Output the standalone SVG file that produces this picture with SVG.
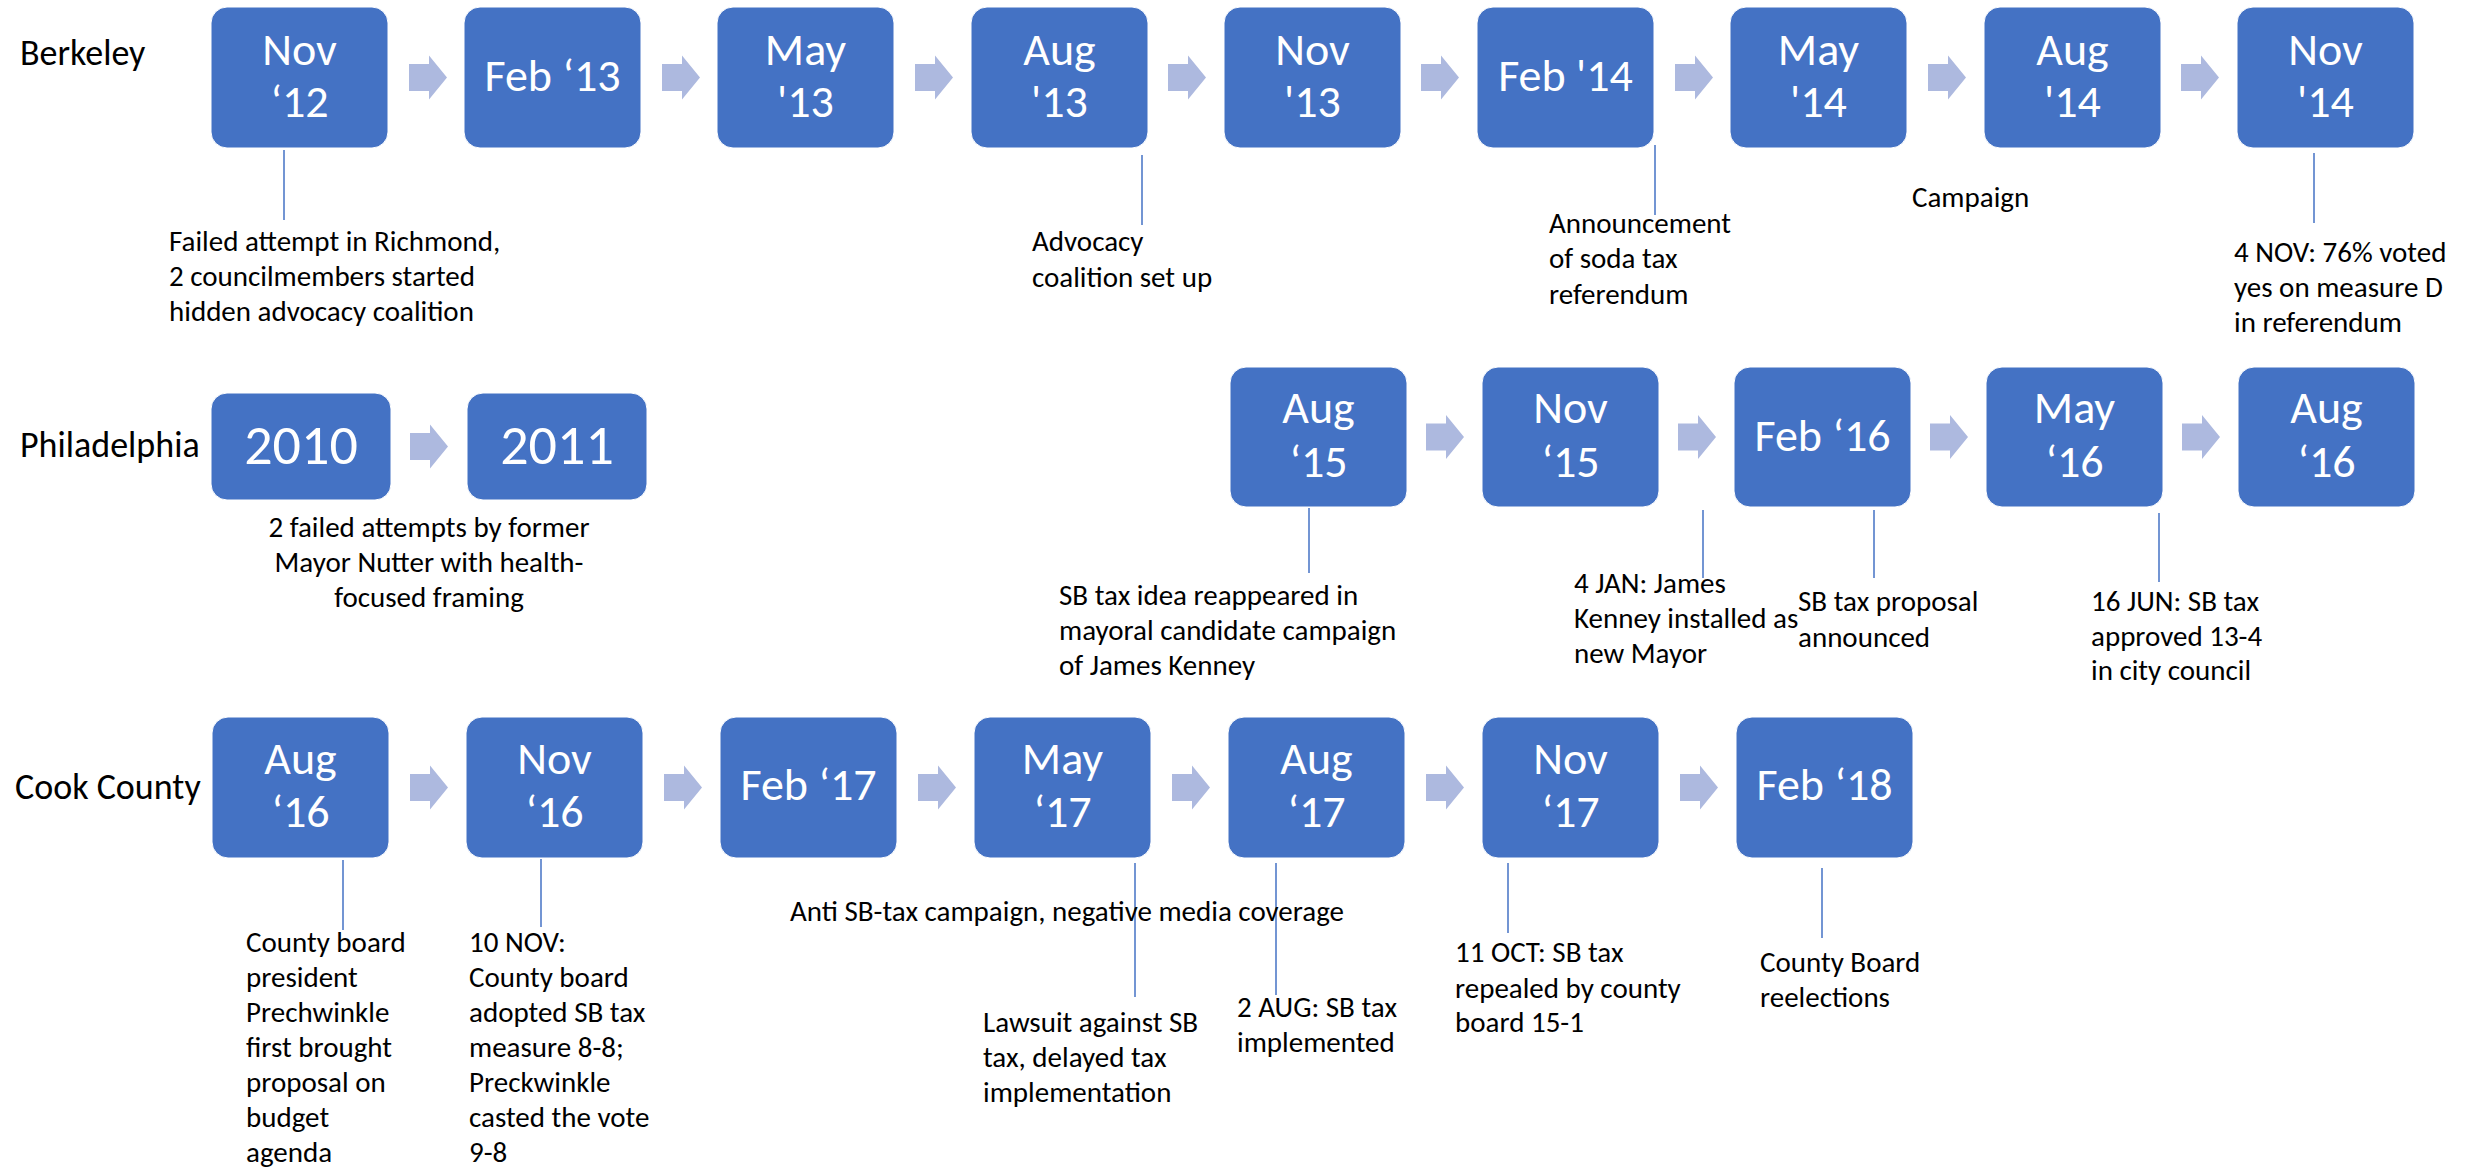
<svg xmlns="http://www.w3.org/2000/svg" xmlns:xlink="http://www.w3.org/1999/xlink" width="2483" height="1167" viewBox="0 0 2483 1167">
<style>
.box{fill:#4472C4;stroke:#ffffff;stroke-width:1}
.bt{font-family:Carlito,Lato,"Open Sans",sans-serif;font-size:46px;fill:#ffffff;text-anchor:middle}
.big{font-size:56px}
.rl{font-family:Carlito,Lato,"Open Sans",sans-serif;font-size:36px;fill:#000000}
.lb{font-family:Carlito,Lato,"Open Sans",sans-serif;font-size:29px;fill:#000000}
.ctr{text-anchor:middle}
.ln{stroke:#4472C4;stroke-width:1.5;fill:none}
.ar{fill:#ADB9DF}
</style>
<defs>
<path id="arrow" d="M0,-13.5 H20 V-22 L38,0 L20,22 V13.5 H0 Z"/>
</defs>
<rect width="2483" height="1167" fill="#ffffff"/>

<g id="row-labels">
<text class="rl" x="20" y="65">Berkeley</text>
<text class="rl" x="20" y="457">Philadelphia</text>
<text class="rl" x="15" y="799">Cook County</text>
</g>

<!-- Berkeley row -->
<g id="b-nov12"><rect class="box" x="211" y="7" width="177" height="141" rx="16"/><text class="bt" x="299.5" y="65">Nov</text><text class="bt" x="299.5" y="117">‘12</text></g>
<g id="b-feb13"><rect class="box" x="464" y="7" width="177" height="141" rx="16"/><text class="bt" x="552.5" y="91">Feb ‘13</text></g>
<g id="b-may13"><rect class="box" x="717" y="7" width="177" height="141" rx="16"/><text class="bt" x="805.5" y="65">May</text><text class="bt" x="805.5" y="117">'13</text></g>
<g id="b-aug13"><rect class="box" x="971" y="7" width="177" height="141" rx="16"/><text class="bt" x="1059.5" y="65">Aug</text><text class="bt" x="1059.5" y="117">'13</text></g>
<g id="b-nov13"><rect class="box" x="1224" y="7" width="177" height="141" rx="16"/><text class="bt" x="1312.5" y="65">Nov</text><text class="bt" x="1312.5" y="117">'13</text></g>
<g id="b-feb14"><rect class="box" x="1477" y="7" width="177" height="141" rx="16"/><text class="bt" x="1565.5" y="91">Feb '14</text></g>
<g id="b-may14"><rect class="box" x="1730" y="7" width="177" height="141" rx="16"/><text class="bt" x="1818.5" y="65">May</text><text class="bt" x="1818.5" y="117">'14</text></g>
<g id="b-aug14"><rect class="box" x="1984" y="7" width="177" height="141" rx="16"/><text class="bt" x="2072.5" y="65">Aug</text><text class="bt" x="2072.5" y="117">'14</text></g>
<g id="b-nov14"><rect class="box" x="2237" y="7" width="177" height="141" rx="16"/><text class="bt" x="2325.5" y="65">Nov</text><text class="bt" x="2325.5" y="117">'14</text></g>

<!-- Philadelphia row -->
<g id="p-2010"><rect class="box" x="211" y="393" width="180" height="107" rx="16"/><text class="bt big" x="301" y="464">2010</text></g>
<g id="p-2011"><rect class="box" x="467" y="393" width="180" height="107" rx="16"/><text class="bt big" x="557" y="464">2011</text></g>
<g id="p-aug15"><rect class="box" x="1230" y="367" width="177" height="140" rx="16"/><text class="bt" x="1318.5" y="423">Aug</text><text class="bt" x="1318.5" y="477">‘15</text></g>
<g id="p-nov15"><rect class="box" x="1482" y="367" width="177" height="140" rx="16"/><text class="bt" x="1570.5" y="423">Nov</text><text class="bt" x="1570.5" y="477">‘15</text></g>
<g id="p-feb16"><rect class="box" x="1734" y="367" width="177" height="140" rx="16"/><text class="bt" x="1822.5" y="451">Feb ‘16</text></g>
<g id="p-may16"><rect class="box" x="1986" y="367" width="177" height="140" rx="16"/><text class="bt" x="2074.5" y="423">May</text><text class="bt" x="2074.5" y="477">‘16</text></g>
<g id="p-aug16"><rect class="box" x="2238" y="367" width="177" height="140" rx="16"/><text class="bt" x="2326.5" y="423">Aug</text><text class="bt" x="2326.5" y="477">‘16</text></g>

<!-- Cook County row -->
<g id="c-aug16"><rect class="box" x="212" y="717" width="177" height="141" rx="16"/><text class="bt" x="300.5" y="774">Aug</text><text class="bt" x="300.5" y="827">‘16</text></g>
<g id="c-nov16"><rect class="box" x="466" y="717" width="177" height="141" rx="16"/><text class="bt" x="554.5" y="774">Nov</text><text class="bt" x="554.5" y="827">‘16</text></g>
<g id="c-feb17"><rect class="box" x="720" y="717" width="177" height="141" rx="16"/><text class="bt" x="808.5" y="800">Feb ‘17</text></g>
<g id="c-may17"><rect class="box" x="974" y="717" width="177" height="141" rx="16"/><text class="bt" x="1062.5" y="774">May</text><text class="bt" x="1062.5" y="827">‘17</text></g>
<g id="c-aug17"><rect class="box" x="1228" y="717" width="177" height="141" rx="16"/><text class="bt" x="1316.5" y="774">Aug</text><text class="bt" x="1316.5" y="827">‘17</text></g>
<g id="c-nov17"><rect class="box" x="1482" y="717" width="177" height="141" rx="16"/><text class="bt" x="1570.5" y="774">Nov</text><text class="bt" x="1570.5" y="827">‘17</text></g>
<g id="c-feb18"><rect class="box" x="1736" y="717" width="177" height="141" rx="16"/><text class="bt" x="1824.5" y="800">Feb ‘18</text></g>

<g id="connectors">
<!-- arrows Berkeley -->
<use href="#arrow" xlink:href="#arrow" class="ar" x="409" y="77.5"/>
<use href="#arrow" xlink:href="#arrow" class="ar" x="662" y="77.5"/>
<use href="#arrow" xlink:href="#arrow" class="ar" x="915" y="77.5"/>
<use href="#arrow" xlink:href="#arrow" class="ar" x="1168" y="77.5"/>
<use href="#arrow" xlink:href="#arrow" class="ar" x="1421" y="77.5"/>
<use href="#arrow" xlink:href="#arrow" class="ar" x="1675" y="77.5"/>
<use href="#arrow" xlink:href="#arrow" class="ar" x="1928" y="77.5"/>
<use href="#arrow" xlink:href="#arrow" class="ar" x="2181" y="77.5"/>
<!-- arrows Philadelphia -->
<use href="#arrow" xlink:href="#arrow" class="ar" x="410" y="446.5"/>
<use href="#arrow" xlink:href="#arrow" class="ar" x="1426" y="437"/>
<use href="#arrow" xlink:href="#arrow" class="ar" x="1678" y="437"/>
<use href="#arrow" xlink:href="#arrow" class="ar" x="1930" y="437"/>
<use href="#arrow" xlink:href="#arrow" class="ar" x="2182" y="437"/>
<!-- arrows Cook County -->
<use href="#arrow" xlink:href="#arrow" class="ar" x="410" y="787.5"/>
<use href="#arrow" xlink:href="#arrow" class="ar" x="664" y="787.5"/>
<use href="#arrow" xlink:href="#arrow" class="ar" x="918" y="787.5"/>
<use href="#arrow" xlink:href="#arrow" class="ar" x="1172" y="787.5"/>
<use href="#arrow" xlink:href="#arrow" class="ar" x="1426" y="787.5"/>
<use href="#arrow" xlink:href="#arrow" class="ar" x="1680" y="787.5"/>
<!-- callout lines -->
<line class="ln" x1="284" y1="150" x2="284" y2="220"/>
<line class="ln" x1="1142" y1="155" x2="1142" y2="225"/>
<line class="ln" x1="1655" y1="145" x2="1655" y2="215"/>
<line class="ln" x1="2314" y1="153" x2="2314" y2="223"/>
<line class="ln" x1="1309" y1="508" x2="1309" y2="573"/>
<line class="ln" x1="1703" y1="510" x2="1703" y2="578"/>
<line class="ln" x1="1874" y1="510" x2="1874" y2="578"/>
<line class="ln" x1="2159" y1="513" x2="2159" y2="582"/>
<line class="ln" x1="343" y1="860" x2="343" y2="930"/>
<line class="ln" x1="541" y1="859" x2="541" y2="927"/>
<line class="ln" x1="1135" y1="863" x2="1135" y2="997"/>
<line class="ln" x1="1276" y1="863" x2="1276" y2="995"/>
<line class="ln" x1="1508" y1="863" x2="1508" y2="933"/>
<line class="ln" x1="1822" y1="868" x2="1822" y2="938"/>
</g>

<g id="annotations">
<text class="lb" x="169" y="251"><tspan x="169">Failed attempt in Richmond,</tspan><tspan x="169" y="286">2 councilmembers started</tspan><tspan x="169" y="321">hidden advocacy coalition</tspan></text>
<text class="lb" x="1032" y="251"><tspan x="1032">Advocacy</tspan><tspan x="1032" y="287">coalition set up</tspan></text>
<text class="lb" x="1549" y="233"><tspan x="1549">Announcement</tspan><tspan x="1549" y="268">of soda tax</tspan><tspan x="1549" y="304">referendum</tspan></text>
<text class="lb" x="1912" y="207">Campaign</text>
<text class="lb" x="2234" y="262"><tspan x="2234">4 NOV: 76% voted</tspan><tspan x="2234" y="297">yes on measure D</tspan><tspan x="2234" y="332">in referendum</tspan></text>

<text class="lb ctr" x="429" y="537"><tspan x="429">2 failed attempts by former</tspan><tspan x="429" y="572">Mayor Nutter with health-</tspan><tspan x="429" y="607">focused framing</tspan></text>
<text class="lb" x="1059" y="605"><tspan x="1059">SB tax idea reappeared in</tspan><tspan x="1059" y="640">mayoral candidate campaign</tspan><tspan x="1059" y="675">of James Kenney</tspan></text>
<text class="lb" x="1574" y="593"><tspan x="1574">4 JAN: James</tspan><tspan x="1574" y="628">Kenney installed as</tspan><tspan x="1574" y="663">new Mayor</tspan></text>
<text class="lb" x="1798" y="611"><tspan x="1798">SB tax proposal</tspan><tspan x="1798" y="647">announced</tspan></text>
<text class="lb" x="2091" y="611"><tspan x="2091">16 JUN: SB tax</tspan><tspan x="2091" y="646">approved 13-4</tspan><tspan x="2091" y="680">in city council</tspan></text>

<text class="lb" x="246" y="952"><tspan x="246">County board</tspan><tspan x="246" y="987">president</tspan><tspan x="246" y="1022">Prechwinkle</tspan><tspan x="246" y="1057">first brought</tspan><tspan x="246" y="1092">proposal on</tspan><tspan x="246" y="1127">budget</tspan><tspan x="246" y="1162">agenda</tspan></text>
<text class="lb" x="469" y="952"><tspan x="469">10 NOV:</tspan><tspan x="469" y="987">County board</tspan><tspan x="469" y="1022">adopted SB tax</tspan><tspan x="469" y="1057">measure 8-8;</tspan><tspan x="469" y="1092">Preckwinkle</tspan><tspan x="469" y="1127">casted the vote</tspan><tspan x="469" y="1162">9-8</tspan></text>
<text class="lb" x="790" y="921">Anti SB-tax campaign, negative media coverage</text>
<text class="lb" x="983" y="1032"><tspan x="983">Lawsuit against SB</tspan><tspan x="983" y="1067">tax, delayed tax</tspan><tspan x="983" y="1102">implementation</tspan></text>
<text class="lb" x="1237" y="1017"><tspan x="1237">2 AUG: SB tax</tspan><tspan x="1237" y="1052">implemented</tspan></text>
<text class="lb" x="1455" y="962"><tspan x="1455">11 OCT: SB tax</tspan><tspan x="1455" y="998">repealed by county</tspan><tspan x="1455" y="1032">board 15-1</tspan></text>
<text class="lb" x="1760" y="972"><tspan x="1760">County Board</tspan><tspan x="1760" y="1007">reelections</tspan></text>
</g>
</svg>
